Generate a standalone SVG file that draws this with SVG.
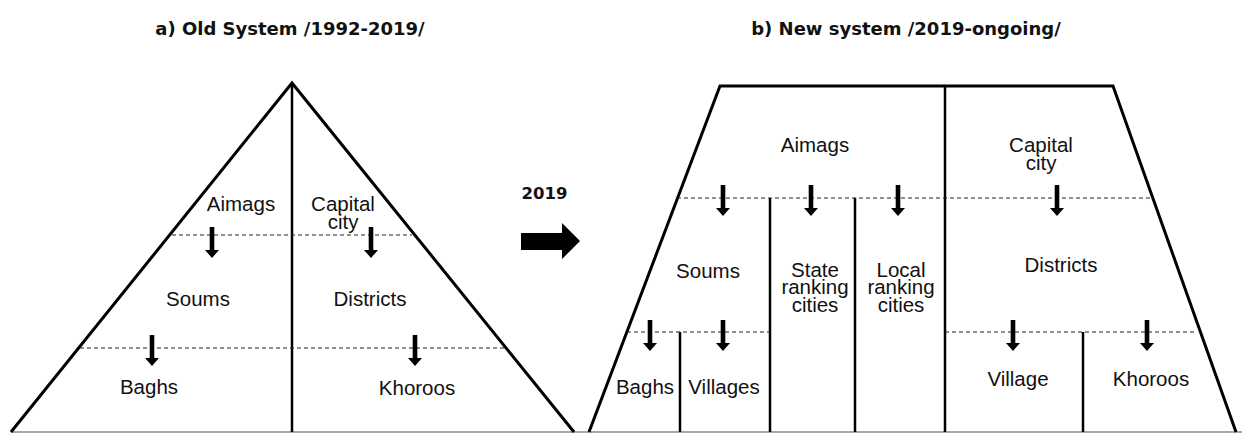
<svg xmlns="http://www.w3.org/2000/svg" xmlns:xlink="http://www.w3.org/1999/xlink" width="1242" height="433" viewBox="0 0 1242 433">
  <defs>
    <path id="dn" d="M-2.3,0 H2.3 V23 H7 L0,31 L-7,23 H-2.3 Z" fill="#000"/>
  </defs>
  <style>
    .lbl { font-family: "Liberation Sans", Arial, sans-serif; font-size: 20.5px; fill: #111; text-anchor: middle; }
    .ttl { font-family: "DejaVu Sans", "Liberation Sans", sans-serif; font-weight: bold; font-size: 18px; fill: #111; text-anchor: middle; }
    .yr { font-family: "DejaVu Sans", "Liberation Sans", sans-serif; font-weight: bold; font-size: 16.5px; fill: #111; text-anchor: middle; }
    .outline { fill: none; stroke: #000; stroke-width: 3; stroke-linejoin: miter; }
    .div { fill: none; stroke: #000; stroke-width: 2.5; }
    .dash { fill: none; stroke: #222; stroke-width: 1.2; stroke-dasharray: 4 3; }
    .base { fill: none; stroke: #888; stroke-width: 1.3; }
  </style>
  <rect width="1242" height="433" fill="#fff"/>

  <g id="titles">
    <text class="ttl" x="290" y="35">a) Old System /1992-2019/</text>
    <text class="ttl" x="906" y="35">b) New system /2019-ongoing/</text>
  </g>

  <g id="shapes">
    <line class="base" x1="11" y1="432" x2="1242" y2="432"/>
    <polyline class="outline" points="11,432 292,83 574,432"/>
    <line class="div" x1="292" y1="83" x2="292" y2="432"/>
    <polyline class="outline" points="589,432 720,86 1113,86 1236,432"/>
    <line class="div" x1="945" y1="86" x2="945" y2="432"/>
    <line class="div" x1="770" y1="198" x2="770" y2="432"/>
    <line class="div" x1="855" y1="198" x2="855" y2="432"/>
    <line class="div" x1="680" y1="332" x2="680" y2="432"/>
    <line class="div" x1="1083" y1="332" x2="1083" y2="432"/>
    <line class="dash" x1="172" y1="235" x2="412" y2="235"/>
    <line class="dash" x1="80" y1="348" x2="504" y2="348"/>
    <line class="dash" x1="677" y1="198" x2="1152" y2="198"/>
    <line class="dash" x1="627" y1="332" x2="770" y2="332"/>
    <line class="dash" x1="945" y1="332" x2="1196" y2="332"/>
  </g>

  <g id="connectors">
    <use xlink:href="#dn" x="212" y="227"/>
    <use xlink:href="#dn" x="371" y="227"/>
    <use xlink:href="#dn" x="152" y="335"/>
    <use xlink:href="#dn" x="415" y="335"/>
    <use xlink:href="#dn" x="723" y="185"/>
    <use xlink:href="#dn" x="811" y="185"/>
    <use xlink:href="#dn" x="898" y="185"/>
    <use xlink:href="#dn" x="1057" y="185"/>
    <use xlink:href="#dn" x="650" y="320"/>
    <use xlink:href="#dn" x="723" y="320"/>
    <use xlink:href="#dn" x="1013" y="320"/>
    <use xlink:href="#dn" x="1147" y="320"/>
    <path d="M521,233 H562 V223 L580,241 L562,259 V250 H521 Z" fill="#000"/>
    <text class="yr" x="544.5" y="199">2019</text>
  </g>

  <g id="old-aimags"><text class="lbl" x="241" y="211">Aimags</text></g>
  <g id="old-capital"><text class="lbl" x="343" y="211">Capital</text><text class="lbl" x="343" y="229">city</text></g>
  <g id="old-soums"><text class="lbl" x="198" y="306">Soums</text></g>
  <g id="old-districts"><text class="lbl" x="370" y="306">Districts</text></g>
  <g id="old-baghs"><text class="lbl" x="149" y="394">Baghs</text></g>
  <g id="old-khoroos"><text class="lbl" x="417" y="395">Khoroos</text></g>

  <g id="new-aimags"><text class="lbl" x="815" y="152">Aimags</text></g>
  <g id="new-capital"><text class="lbl" x="1041" y="152">Capital</text><text class="lbl" x="1041" y="170">city</text></g>
  <g id="new-soums"><text class="lbl" x="708" y="278">Soums</text></g>
  <g id="new-state"><text class="lbl" x="815" y="277">State</text><text class="lbl" x="815" y="294">ranking</text><text class="lbl" x="815" y="312">cities</text></g>
  <g id="new-local"><text class="lbl" x="901" y="277">Local</text><text class="lbl" x="901" y="294">ranking</text><text class="lbl" x="901" y="312">cities</text></g>
  <g id="new-districts"><text class="lbl" x="1061" y="272">Districts</text></g>
  <g id="new-baghs"><text class="lbl" x="645" y="394">Baghs</text></g>
  <g id="new-villages"><text class="lbl" x="724" y="394">Villages</text></g>
  <g id="new-village"><text class="lbl" x="1018" y="386">Village</text></g>
  <g id="new-khoroos"><text class="lbl" x="1151" y="386">Khoroos</text></g>
</svg>
